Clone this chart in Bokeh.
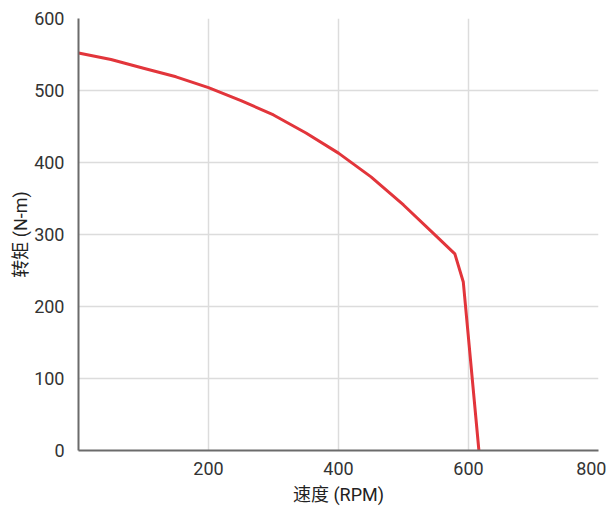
from bokeh.plotting import figure
from bokeh.models import FixedTicker, Range1d
from bokeh.embed import file_html
from bokeh.resources import INLINE

speed = [0, 50, 100, 150, 200, 250, 300, 350, 400, 450, 500, 550, 579, 592, 616]
torque = [552, 543, 531, 519, 504, 486, 466, 441, 413, 380, 341, 298, 273, 234, 0]
x_ticks = [0, 200, 400, 600, 800]
y_ticks = [0, 100, 200, 300, 400, 500, 600]
x_label = "速度 (RPM)"
y_label = "转矩 (N-m)"

NUM_FONT = "'Roboto', sans-serif"
LBL_FONT = "'Roboto', 'Noto Sans CJK SC', sans-serif"

p = figure(width=606, height=507, output_backend="svg", toolbar_location=None,
           x_range=Range1d(0, 800), y_range=Range1d(0, 600),
           min_border_left=78, min_border_top=18, min_border_right=8, min_border_bottom=50)

p.line(speed, torque, line_color="#e2353b", line_width=3, line_join="round")

p.outline_line_color = None
p.background_fill_color = "white"
p.border_fill_color = "white"

p.xaxis.ticker = FixedTicker(ticks=x_ticks)
p.yaxis.ticker = FixedTicker(ticks=y_ticks)
p.xaxis.major_label_overrides = {0: ""}

for ax in (p.xaxis[0], p.yaxis[0]):
    ax.axis_line_color = "#6b6b6b"
    ax.axis_line_width = 2
    ax.major_tick_line_color = None
    ax.minor_tick_line_color = None
    ax.major_label_text_font = NUM_FONT
    ax.major_label_text_font_size = "18px"
    ax.major_label_text_color = "#333333"
    ax.axis_label_text_font = LBL_FONT
    ax.axis_label_text_font_size = "18px"
    ax.axis_label_text_font_style = "normal"
    ax.axis_label_text_color = "#222222"

p.xaxis.axis_label = x_label
p.yaxis.axis_label = y_label
p.xaxis.major_label_standoff = 5
p.yaxis.major_label_standoff = 8
p.xaxis.axis_label_standoff = 6
p.yaxis.axis_label_standoff = 0

p.xgrid.ticker = FixedTicker(ticks=[200, 400, 600, 800])
p.ygrid.ticker = FixedTicker(ticks=[100, 200, 300, 400, 500, 600])
p.grid.grid_line_color = "#dcdcdc"
p.grid.grid_line_width = 1.5

open("out.html", "w").write(file_html(p, INLINE))
